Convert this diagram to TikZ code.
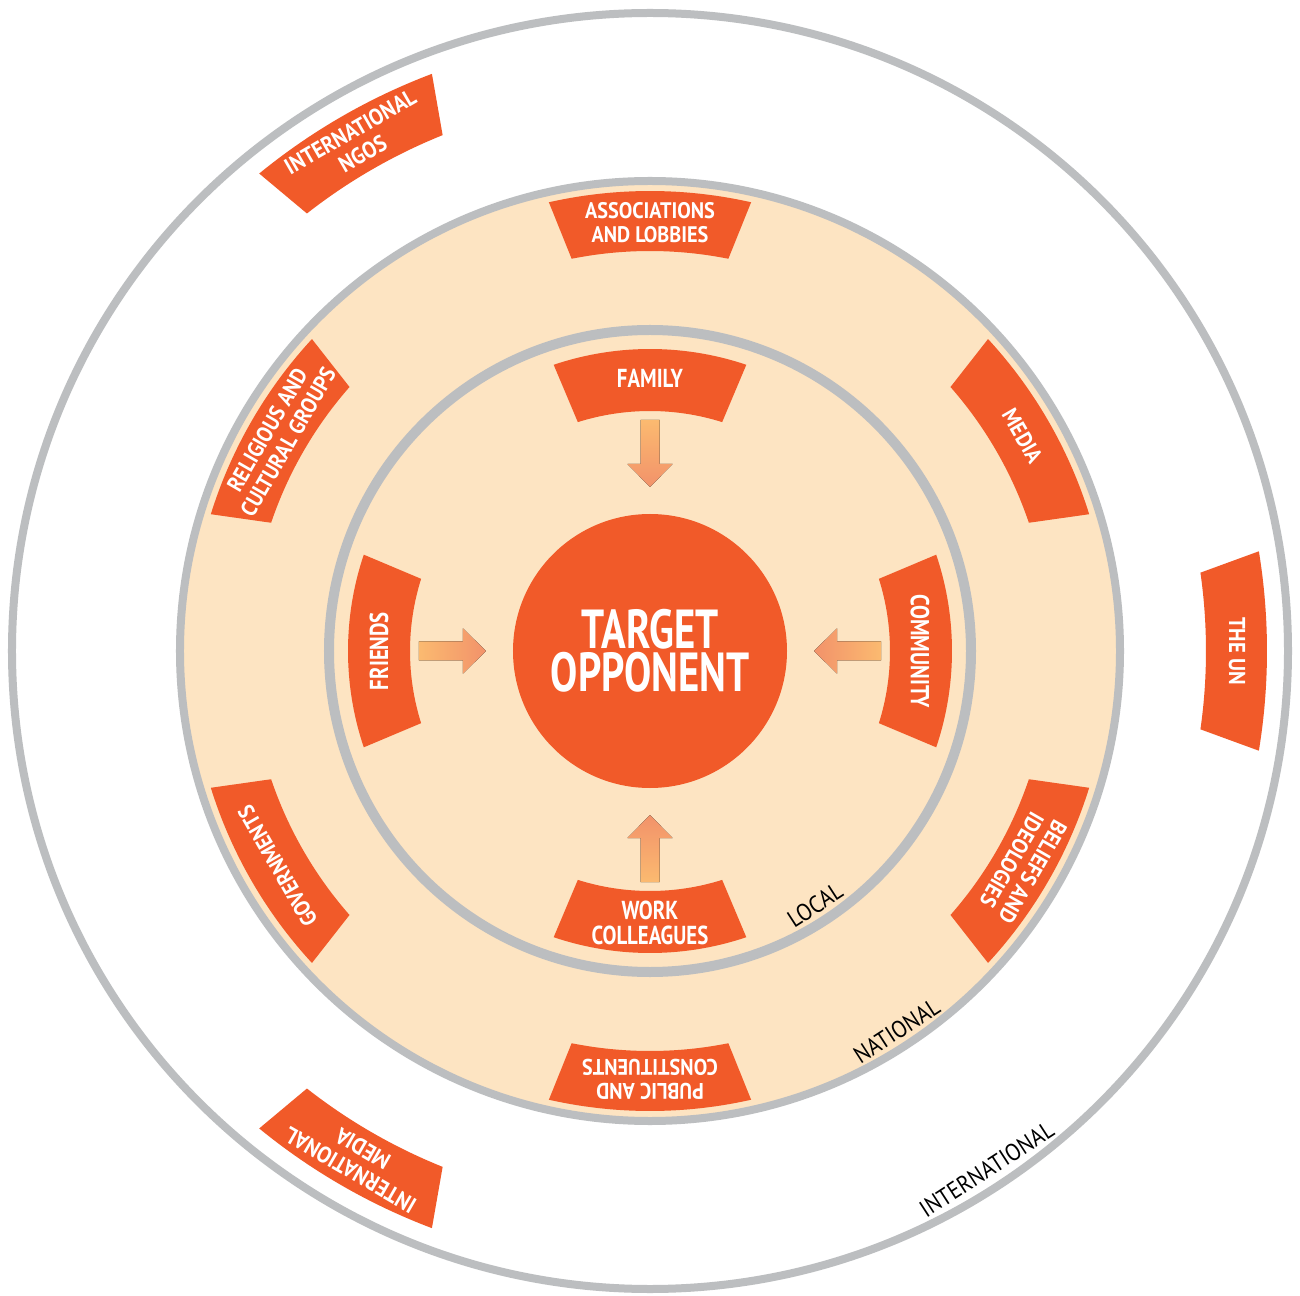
\documentclass[tikz,border=0pt]{standalone}
\usepackage{fontspec}
\setmainfont{PT Sans}
\newfontfamily\bigfont[FakeStretch=0.74]{PT Sans}
\newfontfamily\localfont[FakeStretch=0.8]{PT Sans}
\newfontfamily\natfont[FakeStretch=0.9]{PT Sans}
\newfontfamily\ringfont[FakeStretch=0.9]{PT Sans}
\usetikzlibrary{positioning}

\definecolor{tabred}{RGB}{241,90,41}
\definecolor{natbeige}{RGB}{253,228,194}
\definecolor{ringgray}{RGB}{188,190,192}
\definecolor{arrlight}{RGB}{251,186,112}
\definecolor{arrdark}{RGB}{242,146,106}

% annular tab: angle, inner half angle, outer half angle, inner radius, outer radius
\newcommand\tabshape[5]{%
  \fill[tabred] (#1-#2:#4) -- (#1-#3:#5) arc[start angle=#1-#3, end angle=#1+#3, radius=#5]
    -- (#1+#2:#4) arc[start angle=#1+#2, end angle=#1-#2, radius=#4] -- cycle;}
% block arrow pointing to the centre
\newcommand\inarrow[2]{%
  \begin{scope}[rotate=#1]
    \fill[arrowfill=#2] (231,-9.5) -- (187,-9.5) -- (187,-22.5) -- (164,0) -- (187,22.5) -- (187,9.5) -- (231,9.5) -- cycle;
  \end{scope}}

\begin{document}
\begin{tikzpicture}[x=1pt, y=1pt,
    ring/.style = {draw=ringgray, line width=8pt},
    tabtext/.style = {text=white, align=center, inner sep=0pt},
    localtext/.style = {tabtext, font=\localfont\bfseries\fontsize{26}{25}\selectfont},
    nattext/.style = {tabtext, font=\natfont\bfseries\fontsize{22.5}{24}\selectfont},
    intltext/.style = {tabtext, font=\natfont\bfseries\fontsize{23}{25}\selectfont},
    ringlabel/.style = {text=black, inner sep=0pt, font=\ringfont\fontsize{24}{24}\selectfont},
    arrowfill/.style = {top color=arrlight, bottom color=arrdark, shading angle=#1}]
  \fill[white] (-650,-644) rectangle (650,651);
  \useasboundingbox (-650,-644) rectangle (650,651);

  \draw[ring] (0,0) circle[radius=638];
  \draw[ring, fill=natbeige] (0,0) circle[radius=470];
  \draw[draw=ringgray, line width=10pt] (0,0) circle[radius=321];

  \node[circle, fill=tabred, minimum size=274pt, inner sep=0pt, text=white, align=center,
    font=\bigfont\bfseries\fontsize{55}{43}\selectfont] (target) at (0,0) {TARGET\\OPPONENT};

  \foreach \a in {0,90,180,270}
    \tabshape{\a}{17.5}{18.6}{240}{302};
  \foreach \a in {30,90,150,210,270,330}
    \tabshape{\a}{11.3}{12.7}{400}{460};
  \foreach \a in {0,120,240}
    \tabshape{\a}{8.1}{9.3}{556}{617};

  \node[localtext] (family) at (90:273) {FAMILY};
  \node[localtext, rotate=90] (friends) at (180:271) {FRIENDS};
  \node[localtext, rotate=-90] (community) at (0:270) {COMMUNITY};
  \node[localtext] (colleagues) at (270:272) {WORK\\COLLEAGUES};

  \inarrow{90}{0}
  \inarrow{180}{90}
  \inarrow{0}{-90}
  \inarrow{270}{180}

  \node[nattext] (lobbies) at (90:428) {ASSOCIATIONS\\AND LOBBIES};
  \node[nattext, rotate=-60] (media) at (30:430) {MEDIA};
  \node[nattext, rotate=60] (religious) at (150:430) {RELIGIOUS AND\\CULTURAL GROUPS};
  \node[nattext, rotate=120] (governments) at (210:430) {GOVERNMENTS};
  \node[nattext, rotate=180] (public) at (270:428) {PUBLIC AND\\CONSTITUENTS};
  \node[nattext, rotate=240] (beliefs) at (330:430) {BELIEFS AND\\IDEOLOGIES};

  \node[intltext, rotate=30] (ngos) at (120:587) {INTERNATIONAL\\NGOS};
  \node[intltext, rotate=-90] (un) at (0:587) {THE UN};
  \node[intltext, rotate=150] (intlmedia) at (240:587) {INTERNATIONAL\\MEDIA};

  \node[ringlabel, rotate=33] (local) at (-57:303) {LOCAL};
  \node[ringlabel, rotate=33] (national) at (-57:453) {NATIONAL};
  \node[ringlabel, rotate=33] (international) at (-57:618) {INTERNATIONAL};
\end{tikzpicture}
\end{document}
